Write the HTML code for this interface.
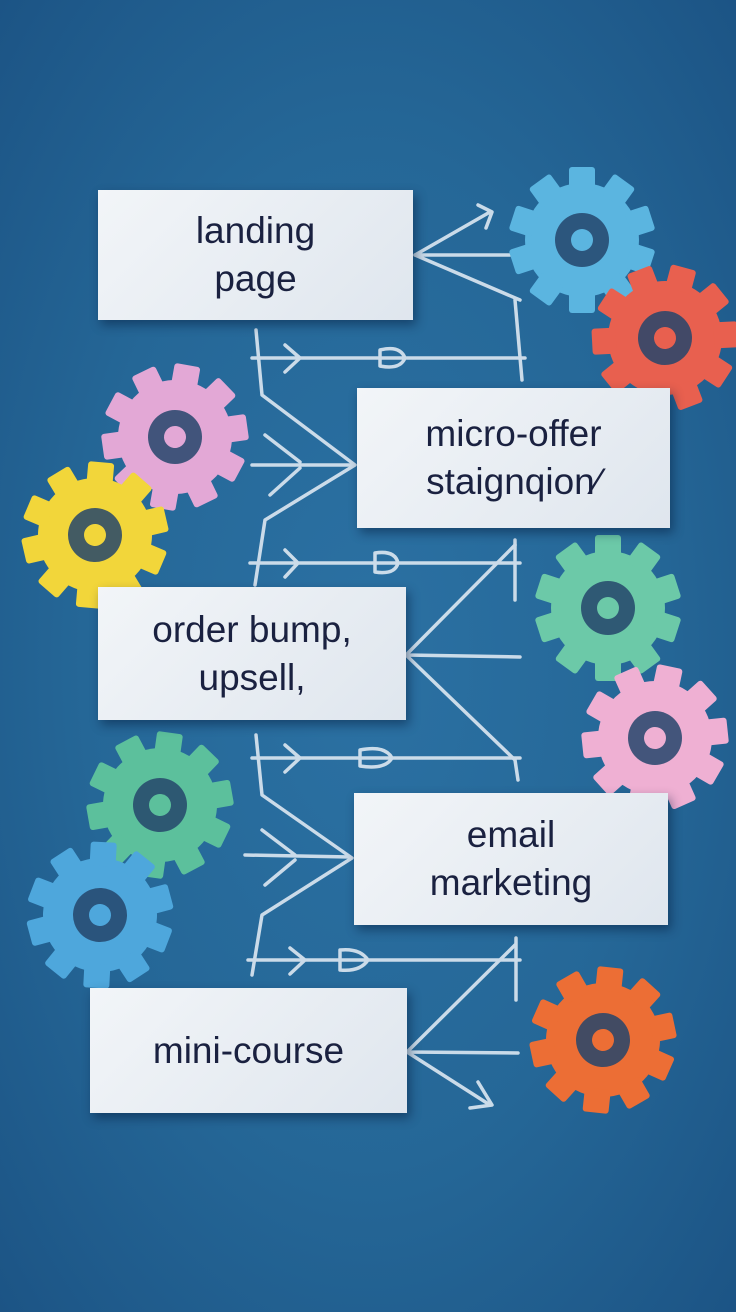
<!DOCTYPE html>
<html><head><meta charset="utf-8"><style>
html,body{margin:0;padding:0}
body{width:736px;height:1312px;overflow:hidden;position:relative;font-family:"Liberation Sans","DejaVu Sans",sans-serif;
background:radial-gradient(ellipse at 50% 50%,#2b71a3 0%,#256797 55%,#1c5485 100%);}
.card{position:absolute;background:linear-gradient(135deg,#f2f5f8,#dfe6ee);box-shadow:3px 5px 10px rgba(0,20,50,.45);color:#1a2140;font-size:37px;line-height:48px;text-align:center;display:flex;align-items:center;justify-content:center;flex-direction:column}
svg{position:absolute;left:0;top:0}
</style></head><body>
<svg width="736" height="1312" viewBox="0 0 736 1312">
<defs>
<g id="gear">
<circle r="57" fill="currentColor"/>
<g fill="currentColor">
<rect x="-13" y="-73" width="26" height="24" rx="3"/>
<rect x="-13" y="-73" width="26" height="24" rx="3" transform="rotate(36)"/>
<rect x="-13" y="-73" width="26" height="24" rx="3" transform="rotate(72)"/>
<rect x="-13" y="-73" width="26" height="24" rx="3" transform="rotate(108)"/>
<rect x="-13" y="-73" width="26" height="24" rx="3" transform="rotate(144)"/>
<rect x="-13" y="-73" width="26" height="24" rx="3" transform="rotate(180)"/>
<rect x="-13" y="-73" width="26" height="24" rx="3" transform="rotate(216)"/>
<rect x="-13" y="-73" width="26" height="24" rx="3" transform="rotate(252)"/>
<rect x="-13" y="-73" width="26" height="24" rx="3" transform="rotate(288)"/>
<rect x="-13" y="-73" width="26" height="24" rx="3" transform="rotate(324)"/>
</g>
<circle r="27" fill="#24456b" opacity=".85"/>
<circle r="11" fill="currentColor"/>
</g>
</defs>
<g fill="none" stroke="#dde8f2" stroke-width="3.5" stroke-linecap="round" stroke-linejoin="round" opacity=".9">
<path d="M415 255 L490 212 M415 255 L510 255 M415 255 L520 300 M478 205 L492 212 L486 228 M515 300 L522 380"/>
<path d="M252 358 L525 358 M285 345 L300 358 L285 372 M380 350 Q400 345 405 358 Q400 370 380 366 Z"/>
<path d="M256 330 L262 395 L355 465 L265 520 L255 585"/>
<path d="M252 465 L352 465 M265 435 L300 462 M270 495 L300 468"/>
<path d="M250 563 L520 563 M285 550 L298 563 L285 577 M375 553 Q395 550 398 563 Q395 575 375 572 Z M515 540 L515 600"/>
<path d="M406 655 L515 545 M406 655 L520 657 M406 655 L515 760 M515 760 L518 780"/>
<path d="M252 758 L520 758 M285 745 L300 758 L285 772 M360 750 Q385 745 392 758 Q385 770 360 766 Z"/>
<path d="M256 735 L262 795 L352 858 L262 915 L252 975"/>
<path d="M245 855 L350 857 M262 830 L295 855 M265 885 L295 860"/>
<path d="M248 960 L520 960 M290 948 L305 960 L290 974 M340 950 Q360 948 368 960 Q360 972 340 970 Z M516 938 L516 1000"/>
<path d="M407 1052 L515 945 M407 1052 L518 1053 M407 1052 L490 1105 M478 1082 L492 1105 L470 1108"/>
</g>
<use href="#gear" transform="translate(582,240)" style="color:#5bb5e0"/>
<use href="#gear" transform="translate(665,338) rotate(15)" style="color:#e8604f"/>
<use href="#gear" transform="translate(175,437) rotate(10)" style="color:#e3a8d6"/>
<use href="#gear" transform="translate(95,535) rotate(5)" style="color:#f2d63a"/>
<use href="#gear" transform="translate(608,608)" style="color:#6cc9a8"/>
<use href="#gear" transform="translate(655,738) rotate(12)" style="color:#efb0d3"/>
<use href="#gear" transform="translate(160,805) rotate(8)" style="color:#5cc09c"/>
<use href="#gear" transform="translate(100,915) rotate(3)" style="color:#4ea7dc"/>
<use href="#gear" transform="translate(603,1040) rotate(6)" style="color:#ec6e35"/>
</svg>
<div class="card" style="left:98px;top:190px;width:315px;height:130px"><div>landing</div><div>page</div></div>
<div class="card" style="left:357px;top:388px;width:313px;height:140px"><div>micro-offer</div><div>staignqion⁄</div></div>
<div class="card" style="left:98px;top:587px;width:308px;height:133px"><div>order bump,</div><div>upsell,</div></div>
<div class="card" style="left:354px;top:793px;width:314px;height:132px"><div>email</div><div>marketing</div></div>
<div class="card" style="left:90px;top:988px;width:317px;height:125px"><div>mini-course</div></div>
</body></html>
